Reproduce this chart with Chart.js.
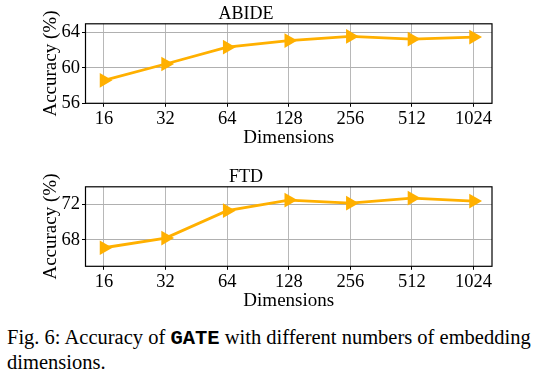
<!DOCTYPE html>
<html>
<head>
<meta charset="utf-8">
<script src="https://cdn.jsdelivr.net/npm/chart.js@4.4.1/dist/chart.umd.min.js"></script>
<style>
  body { margin: 0; background: #fff; width: 537px; height: 380px; position: relative; overflow: hidden; }
  canvas { position: absolute; left: 0; }
  #abideChart { top: 0; }
  #ftdChart { top: 163px; }
  .caption {
    position: absolute; left: 7px; top: 326px; width: 530px;
    font-family: "Liberation Serif", "Times New Roman", serif;
    font-size: 20.5px; line-height: 22.7px; color: #000;
  }
  .caption b { font-family: "Liberation Mono", "Courier New", monospace; font-weight: bold; }
</style>
</head>
<body>
<canvas id="abideChart" width="537" height="150"></canvas>
<canvas id="ftdChart" width="537" height="150"></canvas>
<div class="caption">Fig. 6: Accuracy of <b>GATE</b> with different numbers of embedding<br>dimensions.</div>
<script>
// embedding dimensions on the x axis
const dims = ["16", "32", "64", "128", "256", "512", "1024"];

// accuracy (%)
const abideAcc = [58.6, 60.45, 62.35, 63.1, 63.57, 63.27, 63.5];
const ftdAcc = [67.1, 68.2, 71.3, 72.5, 72.15, 72.72, 72.38];

const abideTicks = [56, 60, 64];
const ftdTicks = [68, 72];

const lineColor = '#FFB000';
const serif = '"Liberation Serif", "Times New Roman", serif';

// matplotlib style closed box around the plot
const boxPlugin = {
  id: 'box',
  afterDraw(chart) {
    const a = chart.chartArea;
    const ctx = chart.ctx;
    ctx.save();
    ctx.strokeStyle = '#000';
    ctx.lineWidth = 1.2;
    ctx.strokeRect(a.left, a.top, a.right - a.left, a.bottom - a.top);
    ctx.restore();
  }
};

function makeChart(id, title, values, yMin, yMax, yTicks) {
  const ctx = document.getElementById(id).getContext('2d');
  return new Chart(ctx, {
    type: 'line',
    data: {
      datasets: [{
        data: values.map((v, i) => ({ x: i, y: v })),
        borderColor: lineColor,
        backgroundColor: lineColor,
        borderWidth: 2.8,
        pointStyle: 'triangle',
        rotation: 90,
        pointRadius: 8.5,
        pointHoverRadius: 8.5,
        pointBorderWidth: 0,
        tension: 0
      }]
    },
    plugins: [boxPlugin],
    options: {
      responsive: false,
      animation: false,
      layout: { padding: { left: 0, right: 45, top: 0, bottom: 0 } },
      plugins: {
        legend: { display: false },
        tooltip: { enabled: false },
        title: {
          display: true,
          text: title,
          color: '#000',
          font: { family: serif, size: 18, weight: 'normal', lineHeight: 1.1 },
          padding: { top: 4, bottom: 0 }
        }
      },
      scales: {
        x: {
          type: 'linear',
          min: -0.3,
          max: 6.3,
          afterBuildTicks: s => { s.ticks = dims.map((d, i) => ({ value: i })); },
          afterFit: s => { s.height = 150 - 103.3; },
          ticks: {
            callback: v => dims[v],
            color: '#000',
            font: { family: serif, size: 18.5 },
            padding: 1,
            maxRotation: 0,
            autoSkip: false
          },
          grid: {
            color: '#b8b8b8',
            lineWidth: 1,
            borderDash: [3, 2],
            drawTicks: true,
            tickLength: 3.5,
            tickColor: '#000',
            tickBorderDash: []
          },
          border: { display: false },
          title: {
            display: true,
            text: 'Dimensions',
            color: '#000',
            font: { family: serif, size: 19 },
            padding: { top: 0, bottom: 1 }
          }
        },
        y: {
          min: yMin,
          max: yMax,
          afterBuildTicks: s => { s.ticks = yTicks.map(v => ({ value: v })); },
          afterFit: s => { s.width = 85.5; },
          ticks: {
            color: '#000',
            font: { family: serif, size: 18.5 },
            padding: 2
          },
          grid: {
            color: '#b0b0b0',
            lineWidth: 1,
            drawTicks: true,
            tickLength: 3.5,
            tickColor: '#000'
          },
          border: { display: false },
          title: {
            display: true,
            text: 'Accuracy (%)',
            color: '#000',
            font: { family: serif, size: 19 },
            padding: { top: 40, bottom: 0 }
          }
        }
      }
    }
  });
}

makeChart('abideChart', 'ABIDE', abideAcc, 56, 65, abideTicks);
makeChart('ftdChart', 'FTD', ftdAcc, 65, 74, ftdTicks);
</script>
</body>
</html>
